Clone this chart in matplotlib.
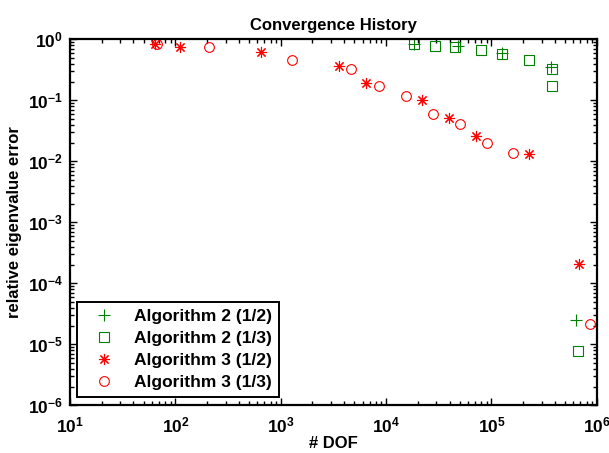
import math
import matplotlib
matplotlib.use("Agg")
import matplotlib.pyplot as plt
from matplotlib.ticker import FuncFormatter, LogLocator, NullFormatter

plt.rcParams['font.family'] = ['Liberation Sans', 'DejaVu Sans']
plt.rcParams['font.weight'] = 'bold'
plt.rcParams['mathtext.fontset'] = 'custom'
plt.rcParams['mathtext.bf'] = 'Liberation Sans:bold'
plt.rcParams['mathtext.rm'] = 'Liberation Sans:bold'

# values
alg2_half_dof = [18350, 47700, 125600, 366000, 636000]
alg2_half_err = [0.834, 0.782, 0.608, 0.358, 2.52e-5]

alg2_third_dof = [18350, 29000, 45300, 78800, 125600, 228000, 372000, 372000, 656000]
alg2_third_err = [0.834, 0.791, 0.745, 0.673, 0.578, 0.467, 0.332, 0.175, 7.82e-6]

alg3_half_dof = [64, 111, 653, 3590, 6430, 21700, 39400, 71100, 225000, 675000]
alg3_half_err = [0.834, 0.762, 0.624, 0.368, 0.196, 0.102, 0.0511, 0.0259, 0.0131, 2.06e-4]

alg3_third_dof = [66.5, 208, 1269, 4604, 8550, 15400, 27600, 50100, 89800, 160600, 863000]
alg3_third_err = [0.834, 0.745, 0.461, 0.328, 0.175, 0.1185, 0.060, 0.0407, 0.0203, 0.0136, 2.14e-5]

green = (0, 0.5, 0)
red = (1, 0, 0)

fig = plt.figure(figsize=(6.09, 4.53), dpi=100)
fig.subplots_adjust(left=0.115, right=0.980, bottom=0.105, top=0.913)
ax = fig.add_subplot(111)

ax.plot(alg2_half_dof, alg2_half_err, linestyle='none', marker='+', ms=8,
        mew=0.8, color=green, label='Algorithm 2 (1/2)')
ax.plot(alg2_third_dof, alg2_third_err, linestyle='none', marker='s', ms=6.5,
        mew=0.8, mfc='none', mec=green, label='Algorithm 2 (1/3)')
ax.plot(alg3_half_dof, alg3_half_err, linestyle='none', marker=(8, 2, 0), ms=8,
        mew=0.8, color=red, label='Algorithm 3 (1/2)')
ax.plot(alg3_third_dof, alg3_third_err, linestyle='none', marker='o', ms=7,
        mew=0.8, mfc='none', mec=red, label='Algorithm 3 (1/3)')

ax.set_xscale('log')
ax.set_yscale('log')
ax.set_xlim(10, 1e6)
ax.set_ylim(1e-6, 1)

# matlab style 10^n labels, bold
pow_fmt = FuncFormatter(lambda v, pos: r'$\mathbf{10^{%d}}$' % round(math.log10(v)))
ax.xaxis.set_major_locator(LogLocator(base=10, numticks=10))
ax.yaxis.set_major_locator(LogLocator(base=10, numticks=10))
ax.xaxis.set_minor_locator(LogLocator(base=10, subs=range(2, 10), numticks=20))
ax.yaxis.set_minor_locator(LogLocator(base=10, subs=range(2, 10), numticks=20))
ax.xaxis.set_major_formatter(pow_fmt)
ax.yaxis.set_major_formatter(pow_fmt)
ax.xaxis.set_minor_formatter(NullFormatter())
ax.yaxis.set_minor_formatter(NullFormatter())

ax.tick_params(which='both', direction='in', top=True, right=True, width=1)
ax.tick_params(which='major', length=5, labelsize=12.5)
ax.tick_params(which='minor', length=3)
ax.tick_params(axis='x', pad=7)
ax.tick_params(axis='y', pad=5)
for s in ax.spines.values():
    s.set_linewidth(1.6)

ax.set_title('Convergence History', fontsize=12, fontweight='bold', pad=7)
ax.set_xlabel('# DOF', fontsize=12, fontweight='bold', labelpad=0.5)
ax.set_ylabel('relative eigenvalue error', fontsize=12, fontweight='bold', labelpad=4)

leg = ax.legend(loc='lower left', bbox_to_anchor=(0.0133, 0.023), borderaxespad=0,
                fancybox=False, edgecolor='black', framealpha=1,
                prop={'size': 12.5, 'weight': 'bold'}, labelspacing=0.4,
                handlelength=2.3, handletextpad=0.6, borderpad=0.4)
leg.get_frame().set_linewidth(1.4)

fig.savefig('out.png', dpi=100)
